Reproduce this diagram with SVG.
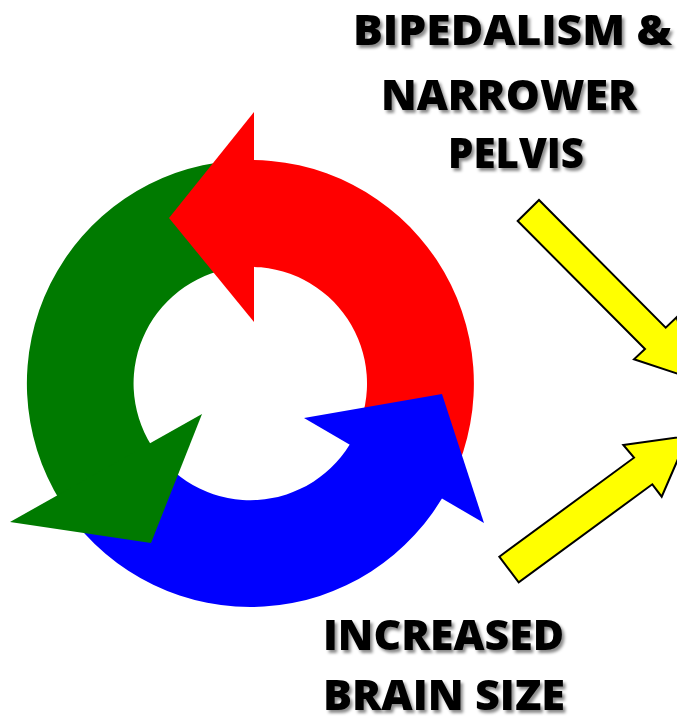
<svg xmlns="http://www.w3.org/2000/svg" width="677" height="724" viewBox="0 0 677 724">
  <defs>
    <filter id="shadow" x="-10%" y="-30%" width="130%" height="170%">
      <feDropShadow dx="2.5" dy="3" stdDeviation="1.6" flood-color="#000" flood-opacity="0.45"/>
    </filter>
    <style>
      .lbl { font-family: "Open Sans", "Liberation Sans", sans-serif; font-weight: 800; font-size: 42px; fill: #000; filter: url(#shadow); }
      .red { fill: #FF0000; }
      .green { fill: #007A00; }
      .blue { fill: #0000FF; }
      .yarrow { fill: #FFFF00; stroke: #000; stroke-width: 2; stroke-linejoin: miter; }
    </style>
  </defs>
  <rect width="677" height="724" fill="#fff"/>

  <g id="cycle">
    <path id="red-body" class="red" d="M452.9,478 A223.5,223.5 0 0 0 242.5,160.1 L246.2,266.9 A116.7,116.7 0 0 1 356.1,432.8 Z"/>
    <path id="green-body" class="green" d="M230.8,160.9 A223.5,223.5 0 0 0 60.8,501.9 L151.3,445.3 A116.7,116.7 0 0 1 240.1,267.2 Z"/>
    <path id="blue-body" class="blue" d="M67.2,511.7 A223.5,223.5 0 0 0 447.6,488.4 L353.3,438.3 A116.7,116.7 0 0 1 154.7,450.4 Z"/>
    <polygon id="red-head" class="red" points="254,112 169,218 254,322"/>
    <polygon id="blue-head" class="blue" points="442,394 304,418 484,523"/>
    <polygon id="green-head" class="green" points="151,543 202,414 10,522"/>
  </g>

  <g id="connectors">
    <polygon class="yarrow" points="517.7,221 539,200 665.7,327.7 676.6,317.3 697,380 634,359.3 645,349"/>
    <polygon class="yarrow" points="499.3,556.7 634,457.7 623.3,445 688,436 661.7,496.7 652.3,484.3 518.7,582.3"/>
  </g>

  <g id="label-bipedalism">
    <text class="lbl" x="353" y="45" textLength="319" lengthAdjust="spacingAndGlyphs">BIPEDALISM &amp;</text>
    <text class="lbl" x="381" y="110" textLength="256" lengthAdjust="spacingAndGlyphs">NARROWER</text>
    <text class="lbl" x="448" y="168" textLength="136" lengthAdjust="spacingAndGlyphs">PELVIS</text>
  </g>

  <g id="label-brain">
    <text class="lbl" x="323" y="650" textLength="241" lengthAdjust="spacingAndGlyphs">INCREASED</text>
    <text class="lbl" x="323" y="710" textLength="242" lengthAdjust="spacingAndGlyphs">BRAIN SIZE</text>
  </g>
</svg>
